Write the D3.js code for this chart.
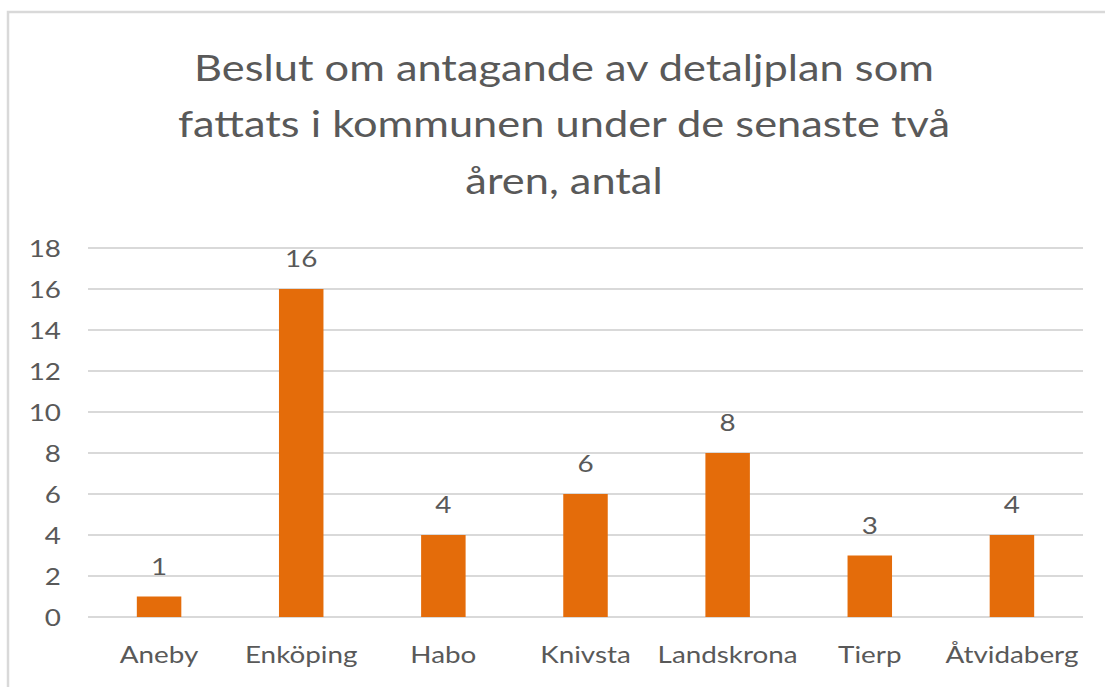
<!DOCTYPE html>
<html><head><meta charset="utf-8">
<script src="https://cdn.jsdelivr.net/npm/d3@7"></script>
<style>body{margin:0;background:#fff;} svg{display:block;}</style>
</head><body>
<svg id="chart" width="1105" height="687"></svg>
<script>
const categories = ["Aneby","Enköping","Habo","Knivsta","Landskrona","Tierp","Åtvidaberg"];
const values = [1,16,4,6,8,3,4];
const yTicks = [0,2,4,6,8,10,12,14,16,18];
const titleLines = ["Beslut om antagande av detaljplan som","fattats i kommunen under de senaste två","åren, antal"];

const FONT = "Lato, 'Open Sans', sans-serif";
const TXT = "#595959";
const SX = 1.21;
const svg = d3.select("#chart");
svg.append("rect").attr("x",0).attr("y",0).attr("width",1105).attr("height",687).attr("fill","#fff");
svg.append("rect").attr("x",8).attr("y",12).attr("width",1120).attr("height",700)
  .attr("fill","none").attr("stroke","#d9d9d9").attr("stroke-width",2.5);

const x = d3.scaleBand().domain(categories).range([88,1083]).paddingInner(0.687).paddingOuter(0.3435);
const y = d3.scaleLinear().domain([0,18]).range([617,248]);

svg.append("g").selectAll("line").data(yTicks).join("line")
  .attr("x1",88).attr("x2",1083).attr("y1",d=>y(d)).attr("y2",d=>y(d))
  .attr("stroke","#d9d9d9").attr("stroke-width",2);

const yAxis = d3.axisLeft(y).tickValues(yTicks).tickSize(0).tickPadding(0);
const ga = svg.append("g").attr("transform","translate(61,0)").call(yAxis);
ga.select(".domain").remove();
ga.selectAll("text").attr("font-family",FONT).attr("font-size",23).attr("fill",TXT)
  .attr("x",0).attr("dy","0.35em").attr("transform",`scale(${SX},1)`);

const xAxis = d3.axisBottom(x).tickSize(0).tickPadding(0);
const gx = svg.append("g").attr("transform","translate(0,663)").call(xAxis);
gx.select(".domain").remove();
gx.selectAll("text").attr("font-family",FONT).attr("font-size",23).attr("fill",TXT)
  .attr("y",0).attr("dy",0).attr("transform",`scale(${SX},1)`);

svg.append("g").selectAll("rect").data(values).join("rect")
  .attr("x",(d,i)=>x(categories[i])).attr("width",x.bandwidth())
  .attr("y",d=>y(d)).attr("height",d=>y(0)-y(d)).attr("fill","#E46C0A");

svg.append("g").selectAll("text").data(values).join("text")
  .attr("transform",(d,i)=>`translate(${x(categories[i])+x.bandwidth()/2},${y(d)-22}) scale(${SX},1)`)
  .attr("text-anchor","middle").attr("font-family",FONT).attr("font-size",23).attr("fill",TXT)
  .text(d=>d);

svg.append("g").selectAll("text").data(titleLines).join("text")
  .attr("transform",(d,i)=>`translate(564,${80.5+i*56.5}) scale(1.205,1)`).attr("text-anchor","middle")
  .attr("font-family",FONT).attr("font-size",36).attr("fill",TXT).text(d=>d);
</script>
</body></html>
